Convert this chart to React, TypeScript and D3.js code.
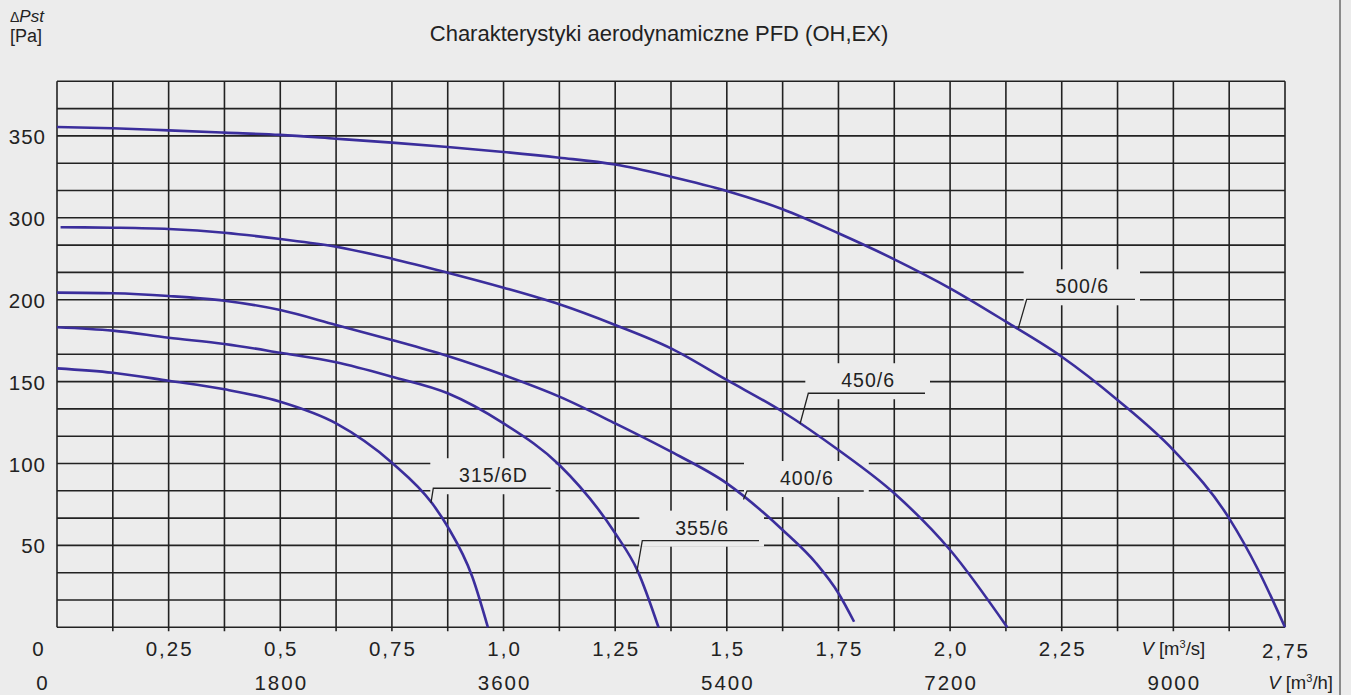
import * as d3 from 'd3'

const W = 1351
const H = 695
const left = 57, right = 1285, top = 81.3, bottom = 627.3
const FONT = '"Liberation Sans", Arial, sans-serif'
const BG = '#ececec'
const CURVE = '#3b2e9c'

// axis ticks
const flowTicks = [0, 0.25, 0.5, 0.75, 1.0, 1.25, 1.5, 1.75, 2.0, 2.25, 2.75]
const flowTickLabels = ['0', '0,25', '0,5', '0,75', '1,0', '1,25', '1,5', '1,75', '2,0', '2,25', '2,75']
const hourTicks = [0, 1800, 3600, 5400, 7200, 9000]
const pTicks = [50, 100, 150, 200, 300, 350]

// fan curves: flow V [m3/s] vs static pressure [Pa]
const q315 = [0, 0.125, 0.25, 0.375, 0.5, 0.625, 0.75, 0.84, 0.875, 0.93, 0.965]
const p315 = [158.1, 155.4, 150.5, 145.3, 137.7, 124.5, 100.5, 75.7, 61.4, 30.9, 0]
const q355 = [0, 0.125, 0.25, 0.375, 0.5, 0.625, 0.75, 0.875, 1.0, 1.125, 1.25, 1.3, 1.347]
const p355 = [183.2, 181.1, 176.8, 173, 167.6, 161.8, 153, 142.9, 124.5, 99.1, 57.4, 34.6, 0]
const q400 = [0, 0.125, 0.25, 0.375, 0.5, 0.625, 0.75, 0.875, 1.0, 1.125, 1.25, 1.375, 1.5, 1.625, 1.7, 1.75, 1.785]
const p400 = [208.6, 207.8, 204.5, 199.4, 193.7, 184.6, 175.4, 165.6, 154, 140.8, 124.5, 107.2, 87.9, 59.4, 39.1, 20.8, 3.4]
const q450 = [0.008, 0.125, 0.25, 0.375, 0.5, 0.625, 0.75, 0.875, 1.0, 1.125, 1.25, 1.375, 1.5, 1.625, 1.75, 1.875, 2.0, 2.128]
const p450 = [288.4, 287.9, 286.3, 281.8, 274.1, 264.7, 250.1, 233, 214.7, 197.2, 184.6, 170.3, 151, 131.6, 108.2, 81.8, 47.2, 0]
const q500 = [0, 0.125, 0.25, 0.375, 0.5, 0.625, 0.75, 0.875, 1.0, 1.125, 1.25, 1.375, 1.5, 1.625, 1.75, 1.875, 2.0, 2.125, 2.25, 2.375, 2.5, 2.625, 2.69, 2.75]
const p500 = [355.4, 354.7, 353.4, 352, 350.6, 348.3, 345.9, 343.2, 340.2, 336.7, 332.5, 325.1, 316.4, 305.2, 281.1, 249.3, 213.9, 186.6, 165.2, 138.8, 108.2, 66.5, 35, 0]

const series = [
  { name: '315/6D', q: q315, p: p315 },
  { name: '355/6', q: q355, p: p355 },
  { name: '400/6', q: q400, p: p400 },
  { name: '450/6', q: q450, p: p450 },
  { name: '500/6', q: q500, p: p500 },
]

// label leaders: point on curve, elbow, end of the horizontal stroke (data units)
const labels = [
  { text: '315/6D', at: [0.8375, 75.9], elbow: [0.8427, 84.9], endQ: 1.1056 },
  { text: '355/6', at: [1.2982, 33.3], elbow: [1.3107, 52.9], endQ: 1.5721 },
  { text: '400/6', at: [1.5373, 78.0], elbow: [1.5452, 83.2], endQ: 1.8067 },
  { text: '450/6', at: [1.6639, 124.1], elbow: [1.6825, 142.9], endQ: 1.9438 },
  { text: '500/6', at: [2.1527, 182.5], elbow: [2.1715, 200.5], endQ: 2.4141 },
]

export default function App() {
  const x = d3.scaleLinear().domain([0, 2.75]).range([left, right])
  const row = d3.scaleLinear().domain([0, 20]).range([bottom, top])
  // the printed pressure scale is uneven (200 -> 300 takes the same space as 50 Pa)
  const y = d3.scaleLinear().domain([0, 200, 300, 383.33]).range([row(0), row(12), row(15), row(20)])

  const line = d3.line<[number, number]>()
    .x(d => x(d[0])).y(d => y(d[1]))
    .curve(d3.curveMonotoneX)

  const vLines = d3.range(0, 23).map(i => i * 0.125)
  const hLines = d3.range(0, 21)

  return (
    <svg width={W} height={H} style={{ position: 'absolute', left: 0, top: 0, display: 'block' }}
      fontFamily={FONT}>
      <rect x={0} y={0} width={W} height={H} fill={BG} />
      <line x1={1340} x2={1340} y1={0} y2={H} stroke="#8a8a8a" strokeWidth={2} />

      <text x={659} y={41} fontSize={22} textAnchor="middle" fill="#222">
        Charakterystyki aerodynamiczne PFD (OH,EX)
      </text>

      <text x={10} y={22} fill="#222">
        <tspan fontSize={14}>Δ</tspan>
        <tspan fontSize={17} fontStyle="italic">Pst</tspan>
      </text>
      <text x={10} y={42} fontSize={18} fill="#222">[Pa]</text>

      <g stroke="#222" strokeWidth={1.6}>
        {vLines.map((v, i) => (
          <line key={'v' + i} x1={x(v)} x2={x(v)} y1={top}
            y2={i === 0 || i === vLines.length - 1 ? bottom : bottom + 4} />
        ))}
        {hLines.map(r => (
          <line key={'h' + r} x1={left} x2={right} y1={row(r)} y2={row(r)} />
        ))}
      </g>

      {labels.map(l => {
        const ex = x(l.elbow[0]), ey = y(l.elbow[1]), xe = x(l.endQ)
        return <rect key={'k' + l.text} x={ex - 3} y={ey - 30} width={xe - ex + 8} height={36} fill={BG} />
      })}

      {series.map(s => (
        <path key={s.name} d={line(s.q.map((q, i) => [q, s.p[i]] as [number, number])) ?? ''}
          fill="none" stroke={CURVE} strokeWidth={2.6} />
      ))}

      {labels.map(l => {
        const ex = x(l.elbow[0]), ey = y(l.elbow[1]), xe = x(l.endQ)
        return (
          <g key={'l' + l.text}>
            <polyline points={`${x(l.at[0])},${y(l.at[1])} ${ex},${ey} ${xe},${ey}`}
              fill="none" stroke="#222" strokeWidth={1.3} />
            <text x={(ex + xe) / 2 + 1.5} y={ey - 6} fontSize={19.5} letterSpacing={1}
              textAnchor="middle" fill="#222">{l.text}</text>
          </g>
        )
      })}

      {pTicks.map(p => (
        <text key={'p' + p} x={46} y={y(p) + 8} fontSize={20.5} letterSpacing={1}
          textAnchor="end" fill="#222">{p}</text>
      ))}

      {flowTicks.map((q, i) => (
        <text key={'q' + q} x={(q === 0 ? x(0) - 19 : x(q)) + 1} y={q === 2.75 ? 658 : 656}
          fontSize={20.5} letterSpacing={2} textAnchor="middle" fill="#222">{flowTickLabels[i]}</text>
      ))}
      <text x={x(2.5)} y={655} fontSize={18.5} textAnchor="middle" fill="#222">
        <tspan fontStyle="italic">V</tspan> [m<tspan fontSize={11} dy={-7}>3</tspan><tspan dy={7}>/s]</tspan>
      </text>

      {hourTicks.map(h => (
        <text key={'h' + h} x={(h === 0 ? x(0) - 15 : x(h / 3600)) + 1} y={690}
          fontSize={20.5} letterSpacing={2} textAnchor="middle" fill="#222">{h}</text>
      ))}
      <text x={1333} y={689} fontSize={18.5} textAnchor="end" fill="#222">
        <tspan fontStyle="italic">V</tspan> [m<tspan fontSize={11} dy={-7}>3</tspan><tspan dy={7}>/h]</tspan>
      </text>
    </svg>
  )
}
